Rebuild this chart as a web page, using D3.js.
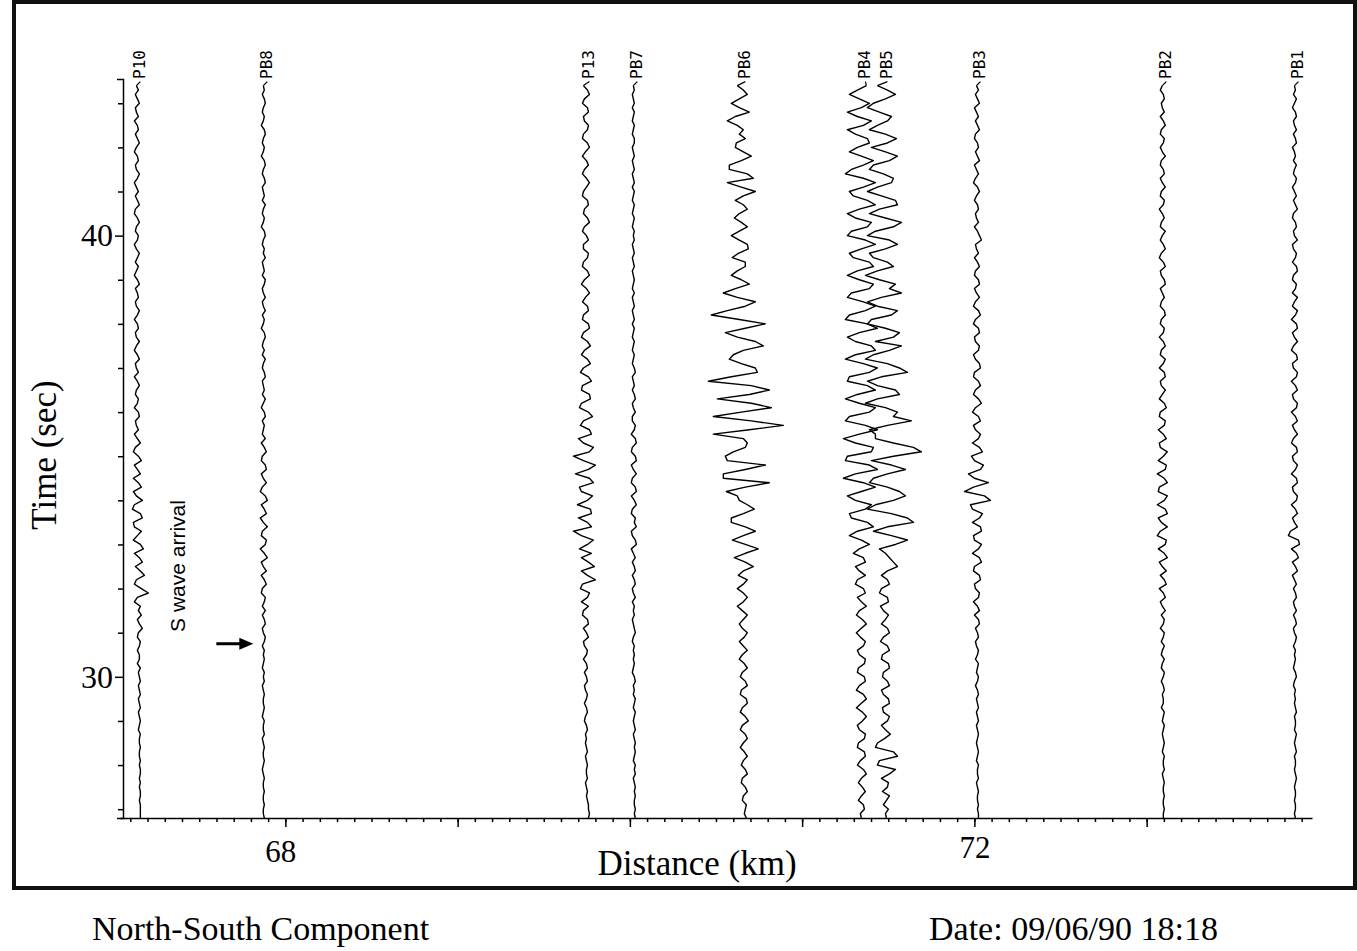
<!DOCTYPE html>
<html><head><meta charset="utf-8">
<script src="https://cdn.jsdelivr.net/npm/d3@7"></script>
<style>body{margin:0;background:#fff}svg{display:block}</style>
</head><body><svg id="c" width="1357" height="951"></svg>
<script>
// ---- data ----
const stations  = ["P10","PB8","P13","PB7","PB6","PB4","PB5","PB3","PB2","PB1"];
const distances = [67.135, 67.872, 69.742, 70.020, 70.647, 71.344, 71.472, 72.012, 73.091, 73.858];
const tStart = 43.4, dt = 0.1;           // first sample time (s) and sampling interval (s)
const xTickLabels = [68, 72];
const yTickLabels = [30, 40];
const arrivalTime = 30.75;               // S wave arrival arrow (s)

const trP10 = [
 0,2,-1,1,3,-1,0,2,-2,1,  2,-1,1,3,0,-2,1,2,-1,0,  3,1,-2,0,2,-1,1,3,-1,-2,  1,3,0,-1,2,1,-2,0,3,1,
 -1,2,0,-2,1,3,-1,1,2,-1,  0,3,1,-2,1,2,-1,0,3,0,  -2,1,3,-1,0,2,-2,1,3,0,  -1,2,1,-2,2,3,-1,0,2,-2,
 1,4,-1,-3,2,5,-2,1,4,-3,  2,5,-3,0,6,-2,-4,4,6,-3,  -2,5,1,-3,4,7,-2,3,6,-1,  4,8,0,-2,5,12,1,-2,4,2,
 5,1,3,6,2,1,4,3,1,3,  3,1,4,2,3,4,2,3,4,2,  3,4,2,3,4,3,2,4,3,3,  4,3,3,4,3,4,4,3,4,3,  4,4,3,4,4,4,4];
const trPB8 = [
 0,1,-1,1,2,0,-1,1,0,-2,  1,2,0,-1,1,0,-2,1,2,0,  -1,1,2,-1,0,1,-1,2,0,-1,  1,0,-2,1,2,0,-1,1,0,2,
 -1,0,1,-1,2,1,-1,0,2,-1,  0,2,-1,1,0,-2,1,2,0,-1,  1,-1,2,0,-1,1,2,-1,0,1,  -1,2,0,-2,1,2,-1,1,0,-1,
 2,-2,1,3,-1,-2,2,3,-2,0,  3,-1,-3,2,4,-2,1,3,-3,0,  4,-1,-2,3,2,-3,1,4,-2,0,  3,-2,1,3,-1,-2,2,1,-1,2,
 -1,1,2,-1,0,2,1,-1,1,0,  1,0,-1,1,0,1,-1,0,1,0,  0,1,0,-1,1,0,0,1,-1,0,  1,0,0,1,0,-1,0,1,0,0,  1,0,0,1,0,0,1];
const trP13 = [
 -2,2,4,-1,-3,2,3,-2,-1,3,  2,-2,-3,2,4,0,-3,1,3,-1,  -3,1,4,1,-2,-3,2,3,-1,-2,  2,4,-1,-3,1,3,-2,-2,3,2,
 -2,-3,2,4,-1,-4,1,4,0,-3,  2,3,-2,-3,3,4,-2,-4,2,5,  -1,-4,2,5,-2,-5,3,6,-3,-4,  4,5,-4,-6,3,7,-2,-5,4,6,
 -7,-2,8,4,-12,-2,10,3,-10,4,  8,-6,-4,7,2,-8,5,6,-7,2,  6,-12,-4,8,2,-6,6,-4,3,9,  -4,2,10,-3,-5,4,2,-4,3,-2,
 -3,2,3,-2,1,3,-2,-1,2,1,  -2,1,2,-1,1,2,-1,0,2,1,  -1,1,2,0,-1,1,2,0,1,0,  1,2,0,1,2,1,1,2,0,1,  2,1,2,3,3,4,3];
const trPB7 = [
 0,1,-1,0,1,-1,1,0,-1,1,  0,-1,1,1,-1,0,1,-1,0,1,  -1,0,1,-1,1,0,-1,1,0,-1,  1,0,-1,1,0,1,-1,0,1,-1,
 0,1,-1,0,1,0,-1,1,-1,0,  1,-1,0,1,-1,1,0,-1,1,0,  -1,1,0,-1,1,2,-1,0,1,-1,  1,2,-1,0,2,-1,-1,2,1,-2,
 2,3,-1,-2,2,3,-2,0,3,-1,  -2,2,3,-2,1,3,-1,-2,2,1,  3,-2,-1,2,3,-2,0,2,-1,1,  2,-1,1,2,-1,0,2,-1,1,0,
 1,-1,0,1,2,0,-1,1,0,1,  0,1,0,-1,1,2,0,1,0,2,  1,0,2,1,0,1,2,0,1,2,  1,2,1,0,2,1,2,0,1,2,  1,2,1,1,2,1,2];
const trPB6 = [
 -4,2,6,-2,-10,-2,8,-6,-14,-4,  2,-2,4,-5,-6,2,10,0,-12,-12,  6,12,-14,0,14,2,-6,2,6,-2,  -7,0,6,-2,-10,-2,6,7,-3,-9,
 4,4,-4,-10,0,8,-6,-18,-4,14,  4,-14,-30,-2,24,4,-16,-4,14,22,  2,-8,-12,0,14,16,-10,-33,10,28,  8,-24,10,30,0,-28,10,42,8,-28,
 2,6,4,-8,-16,-14,24,4,-18,-18,  28,4,-15,-4,-2,6,13,2,-10,-10,  4,14,2,-9,4,17,4,-7,4,12,  2,-3,6,2,-4,2,6,2,-4,1,
 6,2,-2,1,6,3,-2,2,6,1,  -2,3,6,1,-1,4,6,0,-1,5,  6,1,-1,4,7,1,-1,4,6,2,  -1,3,6,2,0,4,6,1,0,4,  6,2,1,5,4,3,5];
const trPB4 = [
 5,-4,-12,-2,8,0,-14,-4,10,2,  -14,-6,6,8,-4,-12,0,12,2,-10,  -16,2,14,2,-12,-8,6,14,-2,-14,  -6,10,6,-10,-14,4,14,0,-12,-8,
 8,12,-4,-14,-2,12,8,-10,-14,2,  14,4,-12,-16,6,16,-2,-14,-6,10,  14,-6,-16,2,16,8,-12,-14,6,14,  -4,-16,-2,14,8,-12,-16,4,16,-2,
 -18,-6,12,10,-14,-16,8,16,-6,-18,  2,14,0,-14,-6,10,4,-12,-10,6,  12,-4,-12,0,8,-2,-8,2,4,-6,  -2,4,-4,-6,2,4,-4,0,5,-2,
 -5,1,5,0,-5,-1,4,2,-4,-2,  4,3,-3,-4,3,4,-2,-5,2,5,  0,-5,1,5,1,-4,-2,4,3,-3,  -4,3,4,-1,-4,2,5,0,-3,1,  4,0,-3,2,3,-1,0];
const trPB5 = [
 -6,4,12,2,-10,-16,-4,8,4,-6,  -14,2,13,4,-12,2,14,6,-10,-14,  0,10,8,-6,-16,-2,12,14,-4,-14,  2,18,10,-8,-16,6,14,2,-14,-10,
 4,10,-6,-18,-4,12,6,18,-2,-16,  -6,14,8,-12,-16,2,16,10,-8,18,  6,-10,-18,4,16,24,-2,-16,-6,12,  16,-6,-18,2,14,10,28,4,-14,-8,
 -8,10,30,38,10,-12,8,22,4,-10,  -14,4,16,22,10,-8,-16,8,24,30,  4,-10,8,24,12,-4,2,6,10,14,  4,-2,4,6,-2,-4,4,5,-3,0,
 5,2,-2,4,6,0,-3,4,6,-1,  -2,5,6,0,-1,4,6,-2,0,5,  6,-1,0,6,4,-2,2,7,1,-6,  -8,10,14,-4,-6,12,6,-2,5,4,  -1,6,3,0,5,2,3];
const trPB3 = [
 0,2,-1,1,3,-2,0,2,-1,1,  3,-1,-2,1,2,-1,1,3,-2,0,  2,-1,-3,1,3,0,-2,1,2,-1,  0,2,-2,1,3,5,-1,0,2,-2,
 1,3,-1,-2,2,3,-2,0,3,-1,  -3,2,4,-1,-3,2,3,-2,-1,3,  2,-3,-1,3,4,-2,-3,2,4,-1,  -3,2,5,-1,-4,2,4,-3,-1,4,
 2,-4,3,6,-5,-2,7,4,-8,-2,  12,-3,-12,8,14,-6,-4,6,3,-4,  4,5,-3,-2,5,2,-4,3,5,-2,  -3,3,4,-2,-1,3,2,-3,1,3,
 -2,2,3,-1,1,2,-1,0,2,1,  -1,2,1,0,2,1,-1,1,2,0,  1,2,0,1,2,0,1,2,1,0,  1,2,1,0,2,1,1,2,0,1,  2,1,1,2,1,2,2];
const trPB2 = [
 0,-2,1,2,-1,0,2,-2,1,3,  -1,-2,2,1,-2,0,3,-1,-2,1,  2,-2,0,3,-1,-2,2,1,-3,0,  2,-1,-2,3,0,-2,1,3,-1,-3,
 1,3,-2,-1,2,3,-2,0,2,-1,  -2,2,3,-1,-2,2,1,-3,1,3,  -1,-2,3,1,-3,2,3,-2,-1,3,  0,-3,2,4,-2,-3,3,2,-4,1,
 4,-3,-2,5,1,-4,4,3,-5,2,  5,-3,-4,5,2,-5,3,5,-4,-1,  5,-2,-5,4,3,-4,2,5,-3,0,  4,-2,2,4,-3,1,3,-2,0,3,
 -1,2,1,-2,2,1,-1,2,0,-1,  2,0,-1,2,1,-1,1,2,0,1,  1,-1,2,1,0,2,1,0,1,2,  1,0,2,1,1,2,0,1,2,1,  1,2,1,1,2,1,1];
const trPB1 = [
 0,1,-1,2,0,-2,1,2,-1,0,  2,-1,1,2,-2,0,1,-1,2,0,  -1,2,1,-2,0,2,-1,1,3,-1,  -2,1,2,-1,0,3,-2,-1,2,1,
 -2,2,3,-1,-2,2,1,-2,3,0,  -2,3,1,-3,2,3,-2,0,3,-1,  -3,2,3,-2,-1,3,2,-3,1,3,  -2,-1,3,2,-3,1,3,-2,0,3,
 -1,-3,2,3,-2,-1,3,1,-3,2,  3,-2,-1,3,2,-3,1,3,-2,0,  3,-4,-6,4,5,-3,2,4,-2,1,  3,-2,0,2,-1,1,2,-1,0,2,
 -1,1,2,-1,0,2,1,-1,1,0,  1,0,-1,1,2,0,-1,1,0,1,  0,1,2,0,1,1,0,2,1,0,  1,2,0,1,1,0,1,2,1,0,  1,1,0,1,1,0,1];
const traces = [trP10, trPB8, trP13, trPB7, trPB6, trPB4, trPB5, trPB3, trPB2, trPB1];

// ---- drawing ----
const svg = d3.select("#c");
const serif = "'Liberation Serif','Times New Roman',serif";
const x = d3.scaleLinear().domain([67.04, 73.96]).range([120, 1312]);
const y = d3.scaleLinear().domain([26.8, 43.55]).range([818, 79]);
const amp = d3.scaleLinear().domain([0, 1]).range([0, 1]);   // counts -> px

// frame
svg.append("rect").attr("x", 14).attr("y", 2).attr("width", 1341).attr("height", 886)
  .attr("fill", "none").attr("stroke", "#111").attr("stroke-width", 4);

// x axis
const minorX = d3.range(671, 740).map(k => k / 10);
const majorX = d3.range(68, 74);
svg.append("g").attr("transform", "translate(0,818)")
  .call(d3.axisBottom(x).tickValues(minorX).tickSize(4).tickSizeOuter(0).tickFormat(""));
const gxMajor = svg.append("g").attr("transform", "translate(0,818)")
  .call(d3.axisBottom(x).tickValues(majorX).tickSize(9).tickSizeOuter(0)
    .tickFormat(d => xTickLabels.includes(d) ? d : ""));
gxMajor.select(".domain").remove();
gxMajor.selectAll("text").attr("font-family", serif).attr("font-size", 31).attr("fill", "#000")
  .attr("dy", d => d === 72 ? "0.9em" : "1.02em").attr("dx", d => d === 68 ? -5 : 0);

// y axis
const gy = svg.append("g").attr("transform", "translate(123,0)")
  .call(d3.axisLeft(y).tickValues(d3.range(27, 44)).tickSize(5).tickSizeOuter(6)
    .tickFormat(d => yTickLabels.includes(d) ? d : ""));
gy.selectAll("text").attr("font-family", serif).attr("font-size", 32).attr("fill", "#000").attr("x", -10);
gy.selectAll(".tick").filter(d => yTickLabels.includes(d)).select("line").attr("x2", -8);

svg.selectAll(".domain, .tick line").attr("stroke", "#000").attr("stroke-width", 1.5);

// traces
const line = d3.line().x(d => d[0]).y(d => d[1]);
traces.forEach((tr, k) => {
  const x0 = x(distances[k]);
  const pts = tr.map((v, i) => [x0 + amp(v), y(tStart - i * dt)]);
  svg.append("path").attr("d", line(pts)).attr("fill", "none")
    .attr("stroke", "#000").attr("stroke-width", 1.4).attr("stroke-linejoin", "round");
  // hook to label
  svg.append("path").attr("d", line([pts[0], [x0 + 4, pts[0][1] - 4]]))
    .attr("fill", "none").attr("stroke", "#000").attr("stroke-width", 1.2);
  svg.append("text").attr("transform", `translate(${x0 + 3},79) rotate(-90)`)
    .attr("dy", "0.35em").attr("font-family", "'DejaVu Sans Mono',monospace")
    .attr("font-size", 16).attr("fill", "#000").text(stations[k]);
});

// S wave arrival annotation
const xa = x(distances[1]);
const ya = y(arrivalTime);
svg.append("line").attr("x1", xa - 47).attr("x2", xa - 22).attr("y1", ya).attr("y2", ya)
  .attr("stroke", "#000").attr("stroke-width", 3);
svg.append("path").attr("d", `M${xa - 24},${ya - 6}L${xa - 10},${ya}L${xa - 24},${ya + 6}Z`).attr("fill", "#000");
svg.append("text").attr("transform", `translate(${xa - 86},566) rotate(-90)`)
  .attr("text-anchor", "middle").attr("dy", "0.35em")
  .attr("font-family", "'Liberation Sans',Arial,sans-serif").attr("font-size", 21).text("S wave arrival");

// axis titles
svg.append("text").attr("transform", "translate(44,455) rotate(-90)").attr("text-anchor", "middle")
  .attr("dy", "0.35em").attr("font-family", serif).attr("font-size", 35).text("Time (sec)");
svg.append("text").attr("x", 697).attr("y", 875).attr("text-anchor", "middle")
  .attr("font-family", serif).attr("font-size", 35).text("Distance (km)");

// footer
svg.append("text").attr("x", 92).attr("y", 940).attr("font-family", serif).attr("font-size", 34)
  .text("North-South Component");
svg.append("text").attr("x", 929).attr("y", 940).attr("font-family", serif).attr("font-size", 34)
  .text("Date: 09/06/90 18:18");
</script></body></html>
